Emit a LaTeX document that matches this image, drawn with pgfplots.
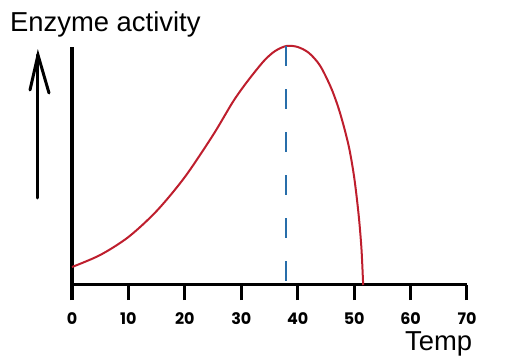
\documentclass[border=0pt]{standalone}
\usepackage{fontspec}
\setmainfont{Liberation Sans}
\newfontfamily\tickfont{Poppins}
\usepackage{pgfplots}
\pgfplotsset{compat=1.18}
\definecolor{curvered}{RGB}{190,30,45}
\definecolor{dashblue}{RGB}{40,110,170}
\begin{document}
\begin{tikzpicture}
\useasboundingbox (-72bp,-77bp) rectangle (438bp,285bp);
\begin{axis}[
  anchor=south west, at={(0,0)},
  scale only axis,
  width=395bp, height=238bp,
  xmin=0, xmax=70, ymin=0, ymax=238,
  axis lines=left,
  axis line style={-, line width=3bp, black},
  xtick={0,10,...,70}, ytick=\empty,
  tick align=outside,
  major tick length=15bp,
  tick style={line width=3bp, black},
  /pgf/number format/assume math mode=true,
  xticklabel style={font=\tickfont\bfseries\fontsize{16}{16}\selectfont, text=black, yshift=-9bp},
  clip=false,
]
% tick marks below the axis
\addplot[black, line width=3bp, ycomb, forget plot] coordinates {
 (0,-15) (10,-15) (20,-15) (30,-15) (40,-15) (50,-15) (60,-15) (70,-15)
};
\addplot[curvered, line width=2bp, smooth, tension=0.5] coordinates {
 (0,18) (5,30) (10,48) (15,74) (20,108) (25,150) (28.5,183) (31,203)
 (34,224) (36,234) (38,239) (40,238) (42,232) (44,219) (46,196)
 (47.5,172) (49,140) (50,108) (50.8,70) (51.3,36) (51.6,0)
};
\addplot[dashblue, line width=2bp, dash pattern=on 20bp off 23bp] coordinates {(37.9,239) (37.9,0)};
\end{axis}
\draw[line width=3bp, line cap=round] (-34bp,87bp) -- (-34bp,230bp);
\draw[line width=3bp, line cap=round, line join=miter] (-42bp,195bp) -- (-34bp,230bp) -- (-23bp,192bp);
\node[anchor=base west, inner sep=0pt, font=\fontsize{27.5}{27.5}\selectfont] at (-62bp,253bp) {Enzyme activity};
\node[anchor=base west, inner sep=0pt, font=\fontsize{27.5}{27.5}\selectfont] at (333bp,-65bp) {Temp};
\end{tikzpicture}
\end{document}
